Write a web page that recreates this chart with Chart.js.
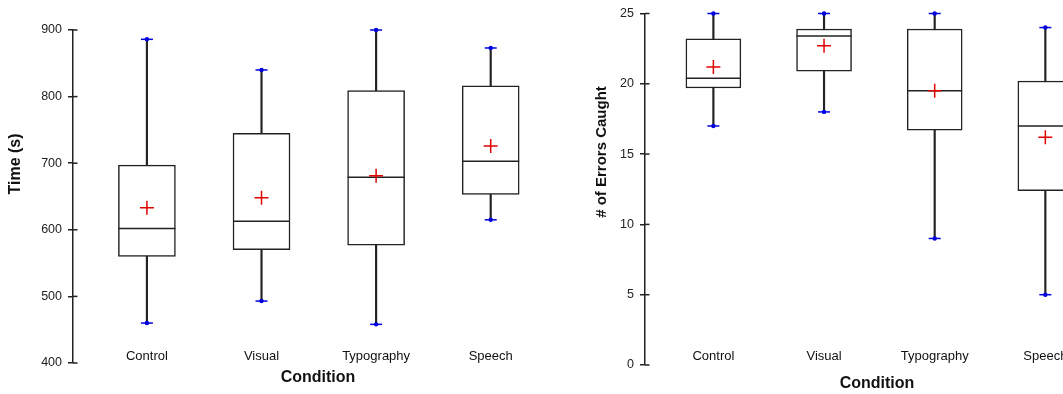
<!DOCTYPE html>
<html>
<head>
<meta charset="utf-8">
<script src="https://cdn.jsdelivr.net/npm/chart.js@4.4.0/dist/chart.umd.min.js"></script>
<style>
  html, body { margin: 0; padding: 0; background: #fff; overflow: hidden; width: 1063px; height: 394px; }
  #timeChart { position: absolute; left: 0; top: 0; }
  #errorChart { position: absolute; left: 560px; top: 0; }
</style>
</head>
<body>
<canvas id="timeChart" width="560" height="394"></canvas>
<canvas id="errorChart" width="620" height="394"></canvas>
<script>
const categories = ['Control', 'Visual', 'Typography', 'Speech'];

// time to finish (s)
const timeMin = [460, 493, 458, 615];
const timeQ1 = [560, 570, 577, 653];
const timeMedian = [602, 613, 679, 703];
const timeQ3 = [697, 745, 809, 816];
const timeMax = [886, 840, 900, 873];
const timeMean = [633, 648, 681, 726];
const timeTicks = [400, 500, 600, 700, 800, 900];

// errors caught
const errMin = [17, 18, 9, 5];
const errQ1 = [19.7, 20.9, 16.7, 12.4];
const errMedian = [20.4, 23.4, 19.5, 17.0];
const errQ3 = [23.2, 23.9, 23.9, 20.2];
const errMax = [25, 25, 25, 24];
const errMean = [21.2, 22.7, 19.5, 16.2];
const errTicks = [0, 5, 10, 15, 20, 25];

const FONT = "'Liberation Sans', Arial, sans-serif";
const INK = '#222';

function boxChart(canvasId, s) {
  const pts = arr => arr.map((v, i) => ({ x: i, y: v }));
  const ranges = (lo, hi) => lo.map((v, i) => ({ x: i, y: [v, hi[i]] }));

  // category labels, titles and the inner half of the y tick marks
  const decor = {
    id: 'decor',
    afterDraw(chart) {
      const ctx = chart.ctx;
      const x = chart.scales.x;
      const y = chart.scales.y;
      const left = chart.chartArea.left;
      ctx.save();
      ctx.strokeStyle = INK;
      ctx.lineWidth = 1.5;
      y.ticks.forEach(t => {
        const py = y.getPixelForValue(t.value);
        ctx.beginPath();
        ctx.moveTo(left, py);
        ctx.lineTo(left + 4.5, py);
        ctx.stroke();
      });
      ctx.fillStyle = '#111';
      ctx.textAlign = 'center';
      ctx.textBaseline = 'middle';
      ctx.font = '13px ' + FONT;
      categories.forEach((c, i) => ctx.fillText(c, x.getPixelForValue(i), s.labelY));
      ctx.font = 'bold 16px ' + FONT;
      ctx.fillText('Condition', s.xTitle[0], s.xTitle[1]);
      ctx.font = 'bold ' + s.yTitleSize + 'px ' + FONT;
      ctx.translate(s.yTitle[0], s.yTitle[1]);
      ctx.rotate(-Math.PI / 2);
      ctx.fillText(s.yLabel, 0, 0);
      ctx.restore();
    }
  };

  return new Chart(document.getElementById(canvasId), {
    type: 'bar',
    data: {
      datasets: [
        {
          // whiskers
          data: ranges(s.min, s.max),
          backgroundColor: INK,
          barThickness: 1.5,
          grouped: false,
          order: 5
        },
        {
          data: ranges(s.q1, s.q3),
          backgroundColor: '#fff',
          borderColor: INK,
          borderWidth: 1.5,
          borderSkipped: false,
          barThickness: s.boxWidth,
          grouped: false,
          order: 4
        },
        {
          type: 'scatter',
          data: pts(s.median),
          pointStyle: 'line',
          radius: s.boxWidth / 2,
          borderColor: INK,
          borderWidth: 1.5,
          order: 3
        },
        {
          type: 'scatter',
          data: pts(s.min).concat(pts(s.max)),
          pointStyle: 'line',
          radius: 6,
          borderColor: '#0000dd',
          borderWidth: 1.5,
          clip: false,
          order: 2
        },
        {
          type: 'scatter',
          data: pts(s.min).concat(pts(s.max)),
          pointStyle: 'circle',
          radius: 2.2,
          backgroundColor: '#0000dd',
          borderColor: '#0000dd',
          borderWidth: 0,
          clip: false,
          order: 2
        },
        {
          type: 'scatter',
          data: pts(s.mean),
          pointStyle: 'cross',
          radius: 7,
          borderColor: '#e00000',
          borderWidth: 1.5,
          order: 1
        }
      ]
    },
    options: {
      responsive: false,
      animation: false,
      events: [],
      layout: {
        autoPadding: false,
        padding: { left: 0, top: s.top, right: s.padRight, bottom: s.bottom }
      },
      plugins: { legend: { display: false }, tooltip: { enabled: false } },
      scales: {
        x: {
          type: 'linear',
          display: false,
          offset: false,
          min: s.xMin,
          max: s.xMax
        },
        y: {
          min: s.ticks[0],
          max: s.ticks[s.ticks.length - 1],
          afterBuildTicks: sc => { sc.ticks = s.ticks.map(v => ({ value: v })); },
          afterFit: sc => { sc.width = s.axisLeft; },
          grid: { drawOnChartArea: false, drawTicks: true, tickLength: 5, color: INK, lineWidth: 1.5 },
          border: { color: INK, width: 1.5 },
          ticks: { padding: 6, color: '#222', font: { family: FONT, size: 12.5 } }
        }
      }
    },
    plugins: [decor]
  });
}

boxChart('timeChart', {
  min: timeMin, q1: timeQ1, median: timeMedian, q3: timeQ3, max: timeMax, mean: timeMean,
  ticks: timeTicks, yLabel: 'Time (s)', yTitleSize: 16,
  boxWidth: 57, axisLeft: 73, top: 30, bottom: 31,
  xMin: -0.645, xMax: 3.5, padRight: 12,
  labelY: 356, xTitle: [318, 378], yTitle: [16, 164]
});

boxChart('errorChart', {
  min: errMin, q1: errQ1, median: errMedian, q3: errQ3, max: errMax, mean: errMean,
  ticks: errTicks, yLabel: '# of Errors Caught', yTitleSize: 15,
  boxWidth: 55, axisLeft: 85, top: 11, bottom: 29,
  xMin: -0.618, xMax: 4, padRight: 24,
  labelY: 356, xTitle: [317, 384], yTitle: [42, 152]
});
</script>
</body>
</html>
